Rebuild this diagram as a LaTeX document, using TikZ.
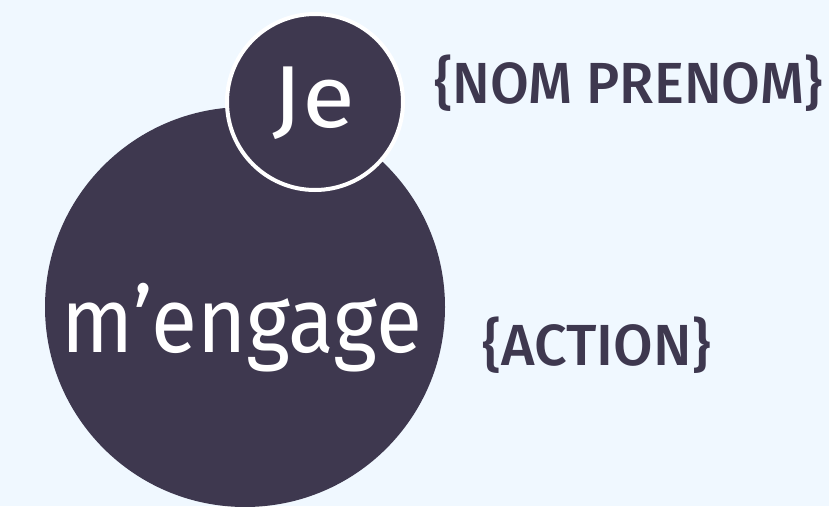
\documentclass[tikz,border=0pt]{standalone}
\usepackage{fontspec}
\setmainfont{Fira Sans}
\newfontfamily\medfont{Fira Sans Medium}
\definecolor{ink}{HTML}{3E384F}
\definecolor{sky}{HTML}{F0F8FF}
\newcommand{\narrow}[2]{\scalebox{#1}[1]{#2}}

\begin{document}
\begin{tikzpicture}[
  x=1pt, y=-1pt,
  disc/.style={circle, fill=ink, inner sep=0pt},
  inword/.style={white, inner sep=0pt, anchor=base},
  tag/.style={ink, inner sep=0pt, anchor=base west, font=\medfont\fontsize{58}{58}\selectfont},
]
\fill [sky] (0,0) rectangle (829,506);
\useasboundingbox (0,0) rectangle (829,506);

% circles
\node [disc, minimum size=400pt] (engage) at (245,307) {};
\node [disc, minimum size=176pt, draw=white, line width=4pt] (je) at (315,102) {};

% words in the circles
\node [inword, font=\fontsize{88}{88}\selectfont] (jeword) at (314,127) {\narrow{1.1}{Je}};
\node [inword, font=\fontsize{92}{92}\selectfont] (engageword) at (242,352) {\narrow{0.915}{m’engage}};

% placeholders
\node [tag] (name) at (434,103) {\narrow{0.97}{\{NOM PRENOM\}}};
\node [tag] (action) at (482,365) {\narrow{0.99}{\{ACTION\}}};
\end{tikzpicture}
\end{document}
